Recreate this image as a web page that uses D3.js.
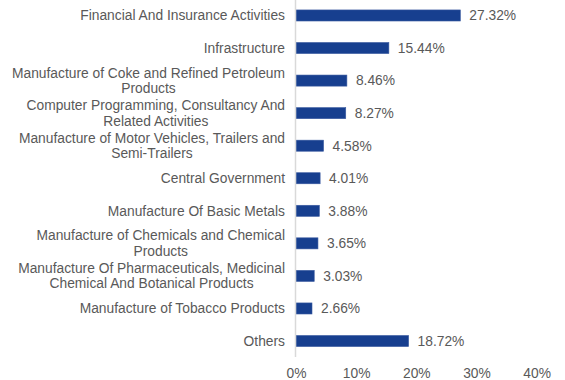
<!DOCTYPE html>
<html>
<head>
<meta charset="utf-8">
<script src="https://d3js.org/d3.v7.min.js"></script>
<style>
  html, body { margin: 0; padding: 0; background: #fff; }
  svg text { font-family: "Liberation Sans", Arial, sans-serif; }
</style>
</head>
<body>
<div id="chart"></div>
<script>
"use strict";
// sector labels (line breaks as in the original), values in %
const categories = [
  ["Financial And Insurance Activities"],
  ["Infrastructure"],
  ["Manufacture of Coke and Refined Petroleum", "Products"],
  ["Computer Programming, Consultancy And", "Related Activities"],
  ["Manufacture of Motor Vehicles, Trailers and", "Semi-Trailers"],
  ["Central Government"],
  ["Manufacture Of Basic Metals"],
  ["Manufacture of Chemicals and Chemical", "Products"],
  ["Manufacture Of Pharmaceuticals, Medicinal", "Chemical And Botanical Products"],
  ["Manufacture of Tobacco Products"],
  ["Others"]
];
const values = [27.32, 15.44, 8.46, 8.27, 4.58, 4.01, 3.88, 3.65, 3.03, 2.66, 18.72];
const ticks = [0, 10, 20, 30, 40];

const W = 565, H = 380;
const x0 = 296, x1 = 536.6;
const FS = 13.8;
const TEXT = "#595959", BAR = "#173f8f";

const svg = d3.select("#chart").append("svg").attr("width", W).attr("height", H);

const x = d3.scaleLinear().domain([0, 40]).range([x0, x1]);
const y = d3.scaleBand().domain(d3.range(values.length)).range([-0.8, 357.3]).paddingInner(0.66).paddingOuter(0.33);

// bars
svg.append("g").selectAll("rect")
  .data(values).join("rect")
  .attr("x", x(0))
  .attr("y", (d, i) => y(i))
  .attr("width", (d) => x(d) - x(0))
  .attr("height", y.bandwidth())
  .attr("fill", BAR)
  .attr("stroke", "#3a5aa0").attr("stroke-width", 0.6);

// vertical axis line
svg.append("line")
  .attr("x1", x0 - 0.5).attr("x2", x0 - 0.5)
  .attr("y1", 0).attr("y2", 357)
  .attr("stroke", "#d9d9d9").attr("stroke-width", 1.5);

// value labels
svg.append("g").selectAll("text")
  .data(values).join("text")
  .attr("x", (d) => x(d) + 9)
  .attr("y", (d, i) => y(i) + y.bandwidth() / 2)
  .attr("dy", "0.35em")
  .attr("font-size", FS).attr("fill", TEXT)
  .text((d) => d.toFixed(2) + "%");

// category labels
const lh = 15.5;
svg.append("g").selectAll("text")
  .data(categories).join("text")
  .attr("text-anchor", "end")
  .attr("font-size", FS).attr("fill", TEXT)
  .each(function (lines, i) {
    const cy = y(i) + y.bandwidth() / 2;
    const top = cy - (lines.length - 1) * lh / 2;
    d3.select(this).selectAll("tspan")
      .data(lines).join("tspan")
      .attr("x", (d, j) => lines.length > 1 && j > 0 ? 285 - (measure(lines[0]) - measure(d)) / 2 : 285)
      .attr("y", (d, j) => top + j * lh)
      .attr("dy", "0.35em")
      .text((d) => d);
  });

function measure(s) {
  const t = svg.append("text").attr("font-size", FS).text(s);
  const w = t.node().getComputedTextLength();
  t.remove();
  return w;
}

// x axis tick labels
const axis = svg.append("g").attr("transform", "translate(0,373)")
  .call(d3.axisBottom(x).tickValues(ticks).tickFormat((d) => d + "%").tickSize(0).tickPadding(0));
axis.select(".domain").remove();
axis.selectAll("text").attr("font-size", FS).attr("fill", TEXT).attr("dy", "0.35em")
  .attr("font-family", "'Liberation Sans', Arial, sans-serif");
</script>
</body>
</html>
